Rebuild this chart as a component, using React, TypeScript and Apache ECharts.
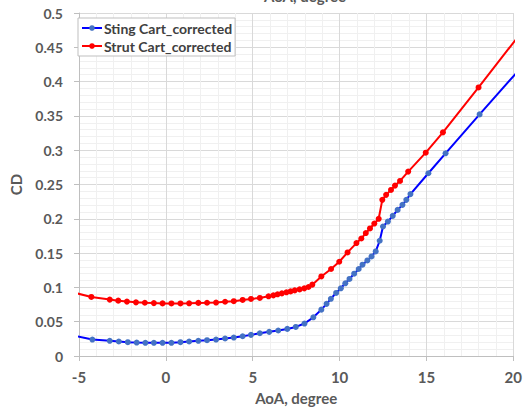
import React, { useEffect, useRef } from "react";
import * as echarts from "echarts";

const xTicks = { min: -5, max: 20, interval: 5 };
const yTicks = { min: 0, max: 0.5, interval: 0.05 };

const seriesNames = ["Sting Cart_corrected", "Strut Cart_corrected"];

const stingAoA = [
  -5.3, -4.23, -3.23, -2.71, -2.19, -1.68, -1.18, -0.69, -0.19, 0.32, 0.84, 1.34, 1.87, 2.37, 2.89, 3.41,
  3.91, 4.42, 4.9, 5.41, 5.95, 6.47, 6.99, 7.48, 7.98, 8.49, 8.95, 9.25, 9.5, 9.8, 10.07, 10.33, 10.57,
  10.84, 11.1, 11.32, 11.6, 11.84, 12.08, 12.31, 12.5, 12.78, 13.06, 13.34, 13.62, 13.84, 14.08, 15.11,
  16.1, 18.06, 20.5,
];
const stingCD = [
  0.0297, 0.024, 0.0221, 0.0211, 0.0201, 0.0196, 0.0192, 0.0192, 0.0192, 0.0192, 0.0201, 0.0211, 0.0221,
  0.023, 0.024, 0.0255, 0.0269, 0.0288, 0.0308, 0.0332, 0.0352, 0.0372, 0.0395, 0.0424, 0.0473, 0.0564,
  0.0676, 0.076, 0.0834, 0.0919, 0.0987, 0.106, 0.1123, 0.12, 0.1268, 0.1331, 0.1393, 0.1451, 0.1524,
  0.168, 0.1888, 0.196, 0.2043, 0.213, 0.2203, 0.2276, 0.236, 0.2664, 0.2955, 0.3522, 0.422,
];

const strutAoA = [
  -5.3, -4.29, -3.23, -2.74, -2.24, -1.72, -1.21, -0.69, -0.19, 0.32, 0.84, 1.34, 1.87, 2.37, 2.89, 3.41,
  3.91, 4.42, 4.9, 5.41, 5.91, 6.19, 6.43, 6.68, 6.94, 7.18, 7.42, 7.7, 7.97, 8.21, 8.43, 8.95, 9.51,
  9.98, 10.46, 10.97, 11.25, 11.51, 11.75, 12.0, 12.25, 12.46, 12.68, 12.96, 13.19, 13.48, 13.95, 14.96,
  15.95, 18.0, 20.5,
];
const strutCD = [
  0.0925, 0.0861, 0.0822, 0.0807, 0.0793, 0.0782, 0.0776, 0.0771, 0.0767, 0.0766, 0.0766, 0.0768, 0.0774,
  0.0776, 0.0779, 0.0791, 0.0799, 0.0817, 0.0832, 0.0846, 0.087, 0.0884, 0.0899, 0.0913, 0.0928, 0.0942,
  0.0957, 0.0971, 0.0986, 0.1006, 0.104, 0.116, 0.1268, 0.1374, 0.151, 0.1646, 0.1713, 0.1792, 0.1859,
  0.1931, 0.2, 0.2276, 0.2349, 0.2421, 0.2484, 0.2552, 0.2688, 0.2964, 0.326, 0.3915, 0.473,
];

const FONT = "Lato, 'Open Sans', sans-serif";
const GRAY = "#595959";

export default function App() {
  const ref = useRef<HTMLDivElement>(null);
  useEffect(() => {
    if (!ref.current) return;
    const chart = echarts.init(ref.current, null, { renderer: "svg" });
    const sting = stingAoA.map((x, i) => [x, stingCD[i]]);
    const strut = strutAoA.map((x, i) => [x, strutCD[i]]);
    chart.setOption({
      animation: false,
      backgroundColor: "#ffffff",
      grid: { left: 69, right: 9, top: 13, bottom: 56, containLabel: false },
      graphic: [
        {
          type: "text",
          left: 264,
          top: -12,
          style: { text: "AoA, degree", fontFamily: FONT, fontWeight: "bold", fontSize: 15, fill: GRAY },
        },
      ],
      legend: {
        orient: "vertical",
        left: 78,
        top: 18,
        backgroundColor: "#ffffff",
        borderColor: "#bfbfbf",
        borderWidth: 1,
        borderRadius: 0,
        padding: [3, 3, 3, 3],
        itemGap: 4,
        itemWidth: 20,
        itemHeight: 7,
        textStyle: { fontFamily: FONT, fontWeight: "bold", fontSize: 14, color: "#404040", padding: [0, 0, 0, -3] },
        data: seriesNames,
      },
      xAxis: {
        type: "value",
        min: xTicks.min,
        max: xTicks.max,
        interval: xTicks.interval,
        name: "AoA, degree",
        nameLocation: "middle",
        nameGap: 34,
        nameTextStyle: { fontFamily: FONT, fontWeight: "bold", fontSize: 15, color: GRAY },
        axisLine: { show: true, onZero: false, lineStyle: { color: "#bfbfbf", width: 1 } },
        axisTick: { show: true, length: 5, lineStyle: { color: "#bfbfbf" } },
        axisLabel: { fontFamily: FONT, fontWeight: "bold", fontSize: 15, color: GRAY, margin: 13 },
        splitLine: { show: true, lineStyle: { color: "#d9d9d9", width: 1 } },
        minorTick: { show: false, splitNumber: 5 },
        minorSplitLine: { show: true, lineStyle: { color: "#f0f0f0", width: 1 } },
      },
      yAxis: {
        type: "value",
        min: yTicks.min,
        max: yTicks.max,
        interval: yTicks.interval,
        name: "CD",
        nameLocation: "middle",
        nameGap: 56,
        nameRotate: 90,
        nameTextStyle: { fontFamily: FONT, fontWeight: "bold", fontSize: 15, color: GRAY },
        axisLine: { show: true, onZero: false, lineStyle: { color: "#bfbfbf", width: 1 } },
        axisTick: { show: true, length: 5, lineStyle: { color: "#bfbfbf" } },
        axisLabel: { fontFamily: FONT, fontWeight: "bold", fontSize: 14, color: GRAY, margin: 16 },
        splitLine: { show: true, lineStyle: { color: "#d9d9d9", width: 1 } },
        minorTick: { show: false, splitNumber: 5 },
        minorSplitLine: { show: true, lineStyle: { color: "#f0f0f0", width: 1 } },
      },
      series: [
        {
          name: seriesNames[0],
          type: "line",
          data: sting,
          clip: true,
          symbol: "circle",
          symbolSize: 6,
          showAllSymbol: true,
          lineStyle: { color: "#0000ff", width: 2 },
          itemStyle: { color: "#4472c4", borderWidth: 0 },
          z: 3,
        },
        {
          name: seriesNames[1],
          type: "line",
          data: strut,
          clip: true,
          symbol: "circle",
          symbolSize: 6,
          showAllSymbol: true,
          lineStyle: { color: "#ff0000", width: 2 },
          itemStyle: { color: "#ff0000", borderWidth: 0 },
          z: 3,
        },
      ],
    });
    return () => chart.dispose();
  }, []);
  return <div ref={ref} style={{ width: 525, height: 412, position: "absolute", left: 0, top: 0 }} />;
}
